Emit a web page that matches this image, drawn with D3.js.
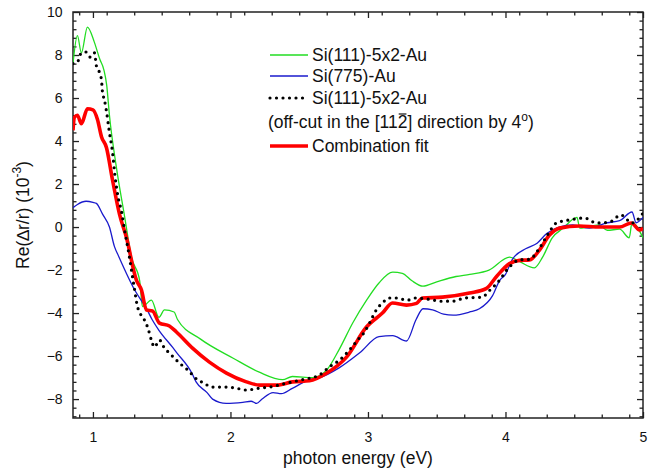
<!DOCTYPE html>
<html>
<head>
<meta charset="utf-8">
<script src="https://cdn.jsdelivr.net/npm/d3@7"></script>
<style>
  body { margin: 0; background: #fff; }
  svg { font-family: "Liberation Sans", Arial, sans-serif; }
</style>
</head>
<body>
<script>
// spectra: [photon energy (eV), Re(dr/r) x 1e-3]
const green = [[0.855,7.6],[0.887,8.9],[0.916,8.1],[0.96,9.3],[1.01,8.6],[1.05,7.8],[1.08,7.3],[1.10,6.6],[1.12,5.2],
  [1.17,2.8],[1.23,0.5],[1.28,-1.4],[1.34,-2.5],[1.36,-3.7],[1.425,-3.4],[1.48,-4.2],[1.52,-3.85],[1.59,-3.95],
  [1.615,-4.3],[1.78,-5.2],[2.02,-6.1],[2.21,-6.75],[2.38,-7.1],[2.45,-6.95],[2.6,-7.0],[2.7,-6.65],[2.79,-5.7],
  [2.89,-4.45],[2.99,-3.4],[3.08,-2.6],[3.18,-2.1],[3.25,-2.15],[3.32,-2.5],[3.40,-2.75],[3.50,-2.55],[3.64,-2.3],
  [3.74,-2.2],[3.88,-2.0],[4.03,-1.4],[4.10,-1.6],[4.21,-1.9],[4.27,-1.4],[4.34,-0.5],[4.42,-0.05],[4.52,0.45],
  [4.54,-0.05],[4.68,0.1],[4.74,-0.15],[4.83,-0.1],[4.90,-0.5],[4.92,0.2],[5.0,-0.5]]

const blue = [[0.855,0.9],[0.887,1.05],[0.95,1.2],[1.0,1.15],[1.025,1.1],[1.07,0.6],[1.12,0.0],[1.156,-0.9],[1.19,-1.4],
  [1.31,-3.0],[1.39,-3.8],[1.43,-4.3],[1.48,-4.8],[1.58,-5.6],[1.61,-5.85],[1.72,-6.8],[1.75,-7.2],[1.83,-7.7],
  [1.87,-8.0],[1.97,-8.2],[2.09,-8.15],[2.15,-8.1],[2.19,-8.2],[2.23,-8.0],[2.31,-7.7],[2.37,-7.75],[2.45,-7.5],
  [2.575,-7.1],[2.65,-7.0],[2.79,-6.55],[2.94,-5.85],[3.08,-5.1],[3.18,-5.05],[3.28,-5.3],[3.35,-4.3],[3.40,-3.8],
  [3.47,-3.85],[3.55,-4.05],[3.62,-4.1],[3.74,-3.95],[3.81,-3.8],[3.905,-3.2],[3.956,-2.5],[4.0,-2.2],[4.05,-1.5],
  [4.15,-1.0],[4.23,-0.75],[4.30,-0.3],[4.39,0.0],[4.49,0.1],[4.61,-0.05],[4.74,0.2],[4.83,0.3],[4.92,0.7],
  [4.95,0.2],[5.0,0.45]]

const offcut = [[0.855,7.6],[0.887,7.67],[0.916,8.1],[0.95,8.14],[0.98,7.9],[1.011,8.1],[1.025,7.5],[1.047,7.2],
  [1.062,6.84],[1.069,6.3],[1.084,5.9],[1.098,5.4],[1.12,4.4],[1.142,3.5],[1.16,2.4],[1.18,1.5],[1.21,0.65],
  [1.229,-0.1],[1.26,-1.2],[1.30,-2.8],[1.324,-3.7],[1.375,-4.33],[1.40,-4.7],[1.425,-5.26],[1.447,-5.58],
  [1.484,-5.26],[1.52,-5.63],[1.556,-5.86],[1.63,-6.33],[1.69,-6.65],[1.76,-7.1],[1.81,-7.26],[1.86,-7.44],
  [1.97,-7.44],[2.07,-7.53],[2.116,-7.58],[2.21,-7.49],[2.305,-7.42],[2.38,-7.3],[2.52,-7.1],[2.647,-6.88],
  [2.72,-6.5],[2.793,-6.19],[2.865,-5.72],[2.924,-5.26],[2.975,-4.88],[3.011,-4.47],[3.06,-3.86],[3.105,-3.53],
  [3.156,-3.3],[3.207,-3.3],[3.287,-3.4],[3.338,-3.3],[3.433,-3.35],[3.535,-3.45],[3.629,-3.44],[3.70,-3.3],
  [3.83,-3.26],[3.884,-2.95],[3.94,-2.6],[4.03,-1.85],[4.10,-1.53],[4.175,-1.5],[4.247,-0.98],[4.305,-0.37],
  [4.371,0.19],[4.465,0.33],[4.575,0.42],[4.662,0.19],[4.756,0.23],[4.84,0.56],[4.92,0.19],[5.0,0.65]]

const fit = [[0.855,4.5],[0.865,5.1],[0.887,5.2],[0.916,4.8],[0.96,5.5],[1.0,5.45],[1.033,5.0],[1.062,4.2],
  [1.098,3.7],[1.142,2.2],[1.193,0.6],[1.244,-0.5],[1.316,-2.47],[1.353,-2.93],[1.389,-3.86],[1.433,-3.9],
  [1.484,-4.47],[1.556,-4.6],[1.607,-4.88],[1.724,-5.63],[1.847,-6.28],[1.971,-6.79],[2.116,-7.2],[2.211,-7.35],
  [2.335,-7.35],[2.451,-7.2],[2.575,-7.15],[2.698,-6.8],[2.844,-6.05],[2.989,-4.65],[3.105,-4.0],[3.178,-3.53],
  [3.28,-3.63],[3.353,-3.55],[3.396,-3.3],[3.542,-3.26],[3.738,-3.07],[3.862,-2.85],[3.935,-2.3],[4.029,-1.7],
  [4.102,-1.55],[4.175,-1.53],[4.247,-1.07],[4.32,-0.37],[4.393,-0.05],[4.538,0.05],[4.684,0.0],[4.829,0.0],
  [4.916,0.19],[4.975,-0.14],[5.0,-0.05]]

const xTicks = [1, 2, 3, 4, 5]
const yTicks = [-8, -6, -4, -2, 0, 2, 4, 6, 8, 10]

const w = 653
const h = 470
const m = {top: 12, right: 10, bottom: 52, left: 73}

const svg = d3.select('body')
  .append('svg')
  .attr('width', w)
  .attr('height', h)

const x = d3.scaleLinear().domain([0.855, 5]).range([m.left, w - m.right])
const y = d3.scaleLinear().domain([-8.88, 10]).range([h - m.bottom, m.top])

svg.append('clipPath').attr('id', 'clip')
  .append('rect')
  .attr('x', m.left).attr('y', m.top)
  .attr('width', w - m.left - m.right).attr('height', h - m.top - m.bottom)

const xMinor = d3.range(0.9, 5.0001, 0.2).map(d => +d.toFixed(2)).filter(d => !xTicks.includes(d))
const yMinor = d3.range(-8.8, 10.0001, 0.4).map(d => +d.toFixed(2)).filter(d => !yTicks.includes(d))

function ticks(axis, tr, vals, size, labels) {
  const g = svg.append('g').attr('transform', tr)
    .call(axis.tickValues(vals).tickSize(-size).tickPadding(labels ? 9 : 0)
      .tickFormat(labels ? d3.format('d') : ''))
  g.select('.domain').remove()
  g.selectAll('line').attr('stroke', '#222').attr('stroke-width', 1.3)
  g.selectAll('text').attr('font-size', 14).attr('fill', '#111')
  return g
}

const B = h - m.bottom, L = m.left, R = w - m.right, T = m.top
// bottom and top
ticks(d3.axisBottom(x), `translate(0,${B})`, xTicks, 6, true).selectAll('text').attr('dy', '1.05em')
ticks(d3.axisBottom(x), `translate(0,${B})`, xMinor, 3.5, false)
ticks(d3.axisTop(x), `translate(0,${T})`, xTicks, 6, false)
ticks(d3.axisTop(x), `translate(0,${T})`, xMinor, 3.5, false)
// left and right
ticks(d3.axisLeft(y), `translate(${L},0)`, yTicks, 6, true).selectAll('text').attr('dx', '-0.1em')
ticks(d3.axisLeft(y), `translate(${L},0)`, yMinor, 3.5, false)
ticks(d3.axisRight(y), `translate(${R},0)`, yTicks, 6, false)
ticks(d3.axisRight(y), `translate(${R},0)`, yMinor, 3.5, false)

svg.append('rect')
  .attr('x', L).attr('y', T)
  .attr('width', R - L).attr('height', B - T)
  .attr('fill', 'none').attr('stroke', '#222').attr('stroke-width', 1.5)

const line = d3.line().x(d => x(d[0])).y(d => y(d[1])).curve(d3.curveMonotoneX)
const plot = svg.append('g').attr('clip-path', 'url(#clip)')

plot.append('path').datum(green).attr('d', line)
  .attr('fill', 'none').attr('stroke', '#22dd22').attr('stroke-width', 1.3)
plot.append('path').datum(blue).attr('d', line)
  .attr('fill', 'none').attr('stroke', '#1a1acc').attr('stroke-width', 1.3)
plot.append('path').datum(fit).attr('d', line)
  .attr('fill', 'none').attr('stroke', '#ff0000').attr('stroke-width', 3.6)
plot.append('path').datum(offcut).attr('d', line)
  .attr('fill', 'none').attr('stroke', '#000').attr('stroke-width', 3.2)
  .attr('stroke-linecap', 'round').attr('stroke-dasharray', '0 6.5')

// legend
const lg = svg.append('g').attr('font-size', 17.5).attr('fill', '#111')
const rows = [
  {y: 55, c: '#22dd22', sw: 1.3, t: 'Si(111)-5x2-Au'},
  {y: 76, c: '#1a1acc', sw: 1.3, t: 'Si(775)-Au'},
  {y: 98, c: '#000', sw: 3.2, dash: true, t: 'Si(111)-5x2-Au'},
  {y: 146, c: '#ff0000', sw: 3.6, t: 'Combination fit'}
]
rows.forEach(r => {
  lg.append('line').attr('x1', 270).attr('x2', 308).attr('y1', r.y).attr('y2', r.y)
    .attr('stroke', r.c).attr('stroke-width', r.sw)
    .attr('stroke-linecap', r.dash ? 'round' : 'butt')
    .attr('stroke-dasharray', r.dash ? '0 6.5' : null)
  lg.append('text').attr('x', 312).attr('y', r.y + 6).text(r.t)
})
const oc = lg.append('text').attr('x', 268).attr('y', 128)
oc.append('tspan').text('(off-cut in the [112')
oc.append('tspan').text('] direction by 4')
oc.append('tspan').attr('dy', -7).attr('font-size', 12).text('o')
oc.append('tspan').attr('dy', 7).text(')')
const bar = oc.node().getExtentOfChar(19)
lg.append('line').attr('x1', bar.x + 1).attr('x2', bar.x + bar.width - 1)
  .attr('y1', bar.y + 2).attr('y2', bar.y + 2).attr('stroke', '#111').attr('stroke-width', 1.2)

// axis titles
svg.append('text').attr('x', (L + R) / 2).attr('y', 464)
  .attr('text-anchor', 'middle').attr('font-size', 17.5).attr('fill', '#111')
  .text('photon energy (eV)')
const yl = svg.append('text').attr('transform', `translate(29,${(T + B) / 2}) rotate(-90)`)
  .attr('text-anchor', 'middle').attr('font-size', 17.5).attr('fill', '#111')
yl.append('tspan').text('Re(\u2206r/r) (10')
yl.append('tspan').attr('dy', -8).attr('font-size', 12).text('-3')
yl.append('tspan').attr('dy', 8).text(')')
</script>
</body>
</html>
